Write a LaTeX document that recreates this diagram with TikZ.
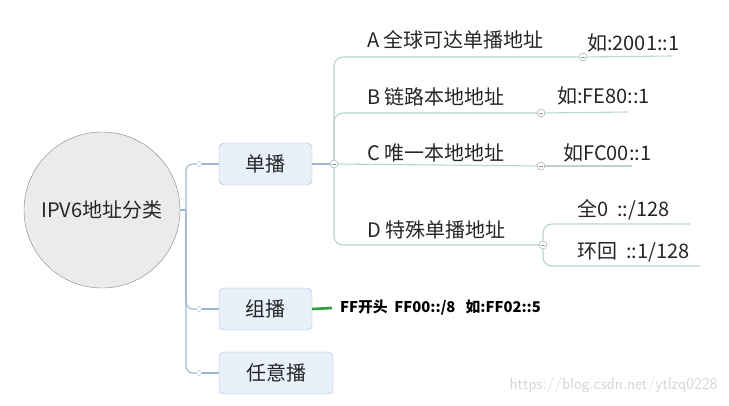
\documentclass[tikz,border=0pt]{standalone}
\usepackage{fontspec}
\setmainfont{Noto Sans CJK SC}
\usetikzlibrary{positioning}

\definecolor{rootfill}{HTML}{EBEBEB}
\definecolor{rootline}{HTML}{858585}
\definecolor{boxfill}{HTML}{E8F0FA}
\definecolor{boxline}{HTML}{A3BADA}
\definecolor{linkblue}{HTML}{9DB3D3}
\definecolor{twiggreen}{HTML}{B8D6C8}
\definecolor{foldgray}{HTML}{8F9AA6}
\definecolor{textgray}{HTML}{262626}
\definecolor{notegreen}{HTML}{2E9E3E}

\begin{document}
\begin{tikzpicture}[
    x=1pt, y=-1pt,
    font=\fontsize{20}{23}\selectfont,
    root/.style={circle, draw=rootline, fill=rootfill, minimum size=156pt,
                 inner sep=0pt, text=textgray},
    topic/.style={draw=boxline, fill=boxfill, rounded corners=5pt,
                  minimum height=42pt, inner sep=0pt, text=textgray},
    knot/.style={circle, draw=linkblue, fill=white, minimum size=5pt, inner sep=0pt},
    fold/.style={circle, draw=foldgray, fill=white, minimum size=8pt, inner sep=0pt,
                 path picture={\draw[foldgray]
                   ([xshift=-2pt]path picture bounding box.center) --
                   ([xshift=2pt]path picture bounding box.center);}},
    link/.style={draw=linkblue, line width=1.1pt, rounded corners=7pt},
    twig/.style={draw=twiggreen, line width=1.1pt, rounded corners=9pt},
    tag/.style={anchor=base west, inner sep=0pt, text=textgray}
  ]
    \useasboundingbox (0,0) rectangle (729,406);

    \node[root] (root) at (102,210) {IPV6地址分类};
    \node[topic, minimum width=93pt]  (uni)   at (265.5,164) {单播};
    \node[topic, minimum width=93pt]  (multi) at (265.5,309) {组播};
    \node[topic, minimum width=114pt] (any)   at (276,373)   {任意播};

    \coordinate (trunk) at (186,210);
    \node[knot] (k1) at (199,164) {};
    \node[knot] (k2) at (199,309) {};
    \node[knot] (k3) at (199,373) {};
    \draw[link] (root.east) -- (trunk);
    \draw[link] (trunk) |- (k1);
    \draw[link] (trunk) |- (k2);
    \draw[link] (trunk) |- (k3);
    \draw[link] (k1) -- (uni);
    \draw[link] (k2) -- (multi);
    \draw[link] (k3) -- (any);

    % unicast branches
    \node[fold] (c1) at (334,164) {};
    \node[fold] (cA) at (583,57)  {};
    \node[fold] (cB) at (541,113) {};
    \node[fold] (cC) at (541,166) {};
    \node[fold] (cD) at (543,245) {};
    \draw[link] (uni) -- (c1);
    \draw[twig] (c1.north) |- (cA);
    \draw[twig] (c1.north) |- (cB);
    \draw[twig] (c1) -- (cC);
    \draw[twig] (c1.south) |- (cD);

    \coordinate (endA)  at (672,56);
    \coordinate (endB)  at (628,112);
    \coordinate (endC)  at (632,166);
    \coordinate (endD1) at (690,224);
    \coordinate (endD2) at (700,266);
    \draw[twig] (cA) -- (endA);
    \draw[twig] (cB) -- (endB);
    \draw[twig] (cC) -- (endC);
    \draw[twig] (cD.north) |- (endD1);
    \draw[twig] (cD.south) |- (endD2);

    \node[tag] (tA) at (367,48)  {A 全球可达单播地址};
    \node[tag] (tB) at (367,105) {B 链路本地地址};
    \node[tag] (tC) at (367,161) {C 唯一本地地址};
    \node[tag] (tD) at (367,238) {D 特殊单播地址};

    \node[tag] (xA)  at (587,51)  {如:2001::1};
    \node[tag] (xB)  at (557,104) {如:FE80::1};
    \node[tag] (xC)  at (563,161) {如FC00::1};
    \node[tag] (xD1) at (577,217) {全0~~::/128};
    \node[tag] (xD2) at (577,259) {环回~~::1/128};

    % multicast note
    \node[anchor=west, inner xsep=8pt, inner ysep=0pt,
          font=\fontsize{14.8}{17}\selectfont\bfseries] (note) at (332,308)
      {FF开头~~FF00::/8~~~如:FF02::5};
    \draw[notegreen, line width=2.6pt] (multi.east) -- (note.west);

    \node[anchor=east, text=black!16, font=\sffamily\fontsize{16.5}{18}\selectfont]
      (mark) at (721,385) {https://blog.csdn.net/ytlzq0228};
  \end{tikzpicture}
\end{document}
